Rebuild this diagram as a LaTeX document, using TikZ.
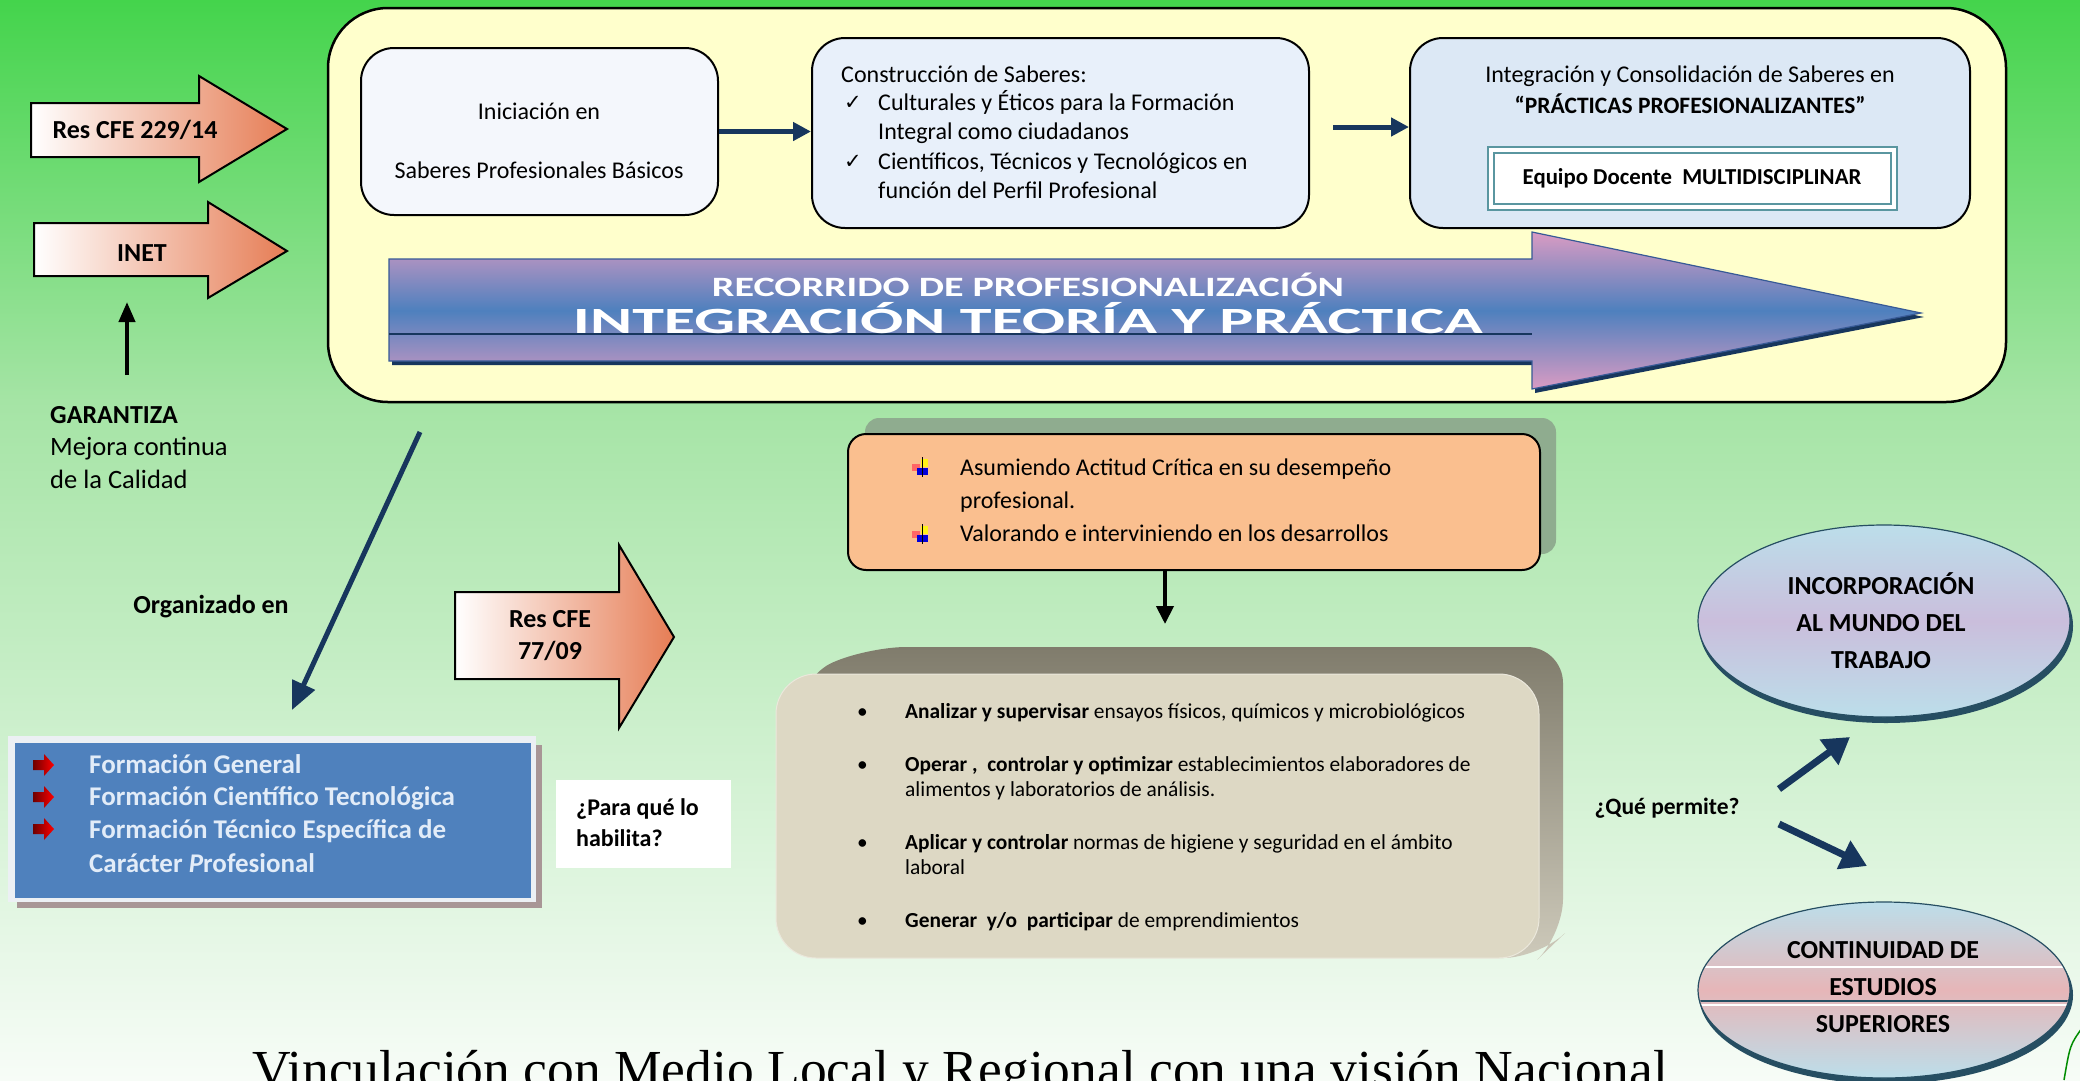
\documentclass[tikz,border=0pt]{standalone}
\usepackage{fontspec}
\setmainfont{Carlito}
\newfontfamily\serifF{Liberation Serif}
\newfontfamily\djv{DejaVu Sans}
\usetikzlibrary{arrows.meta,shapes.geometric}

\definecolor{bgtop}{RGB}{68,212,76}
\definecolor{bgmid}{RGB}{165,228,165}
\definecolor{bgbot}{RGB}{247,252,247}
\definecolor{frameY}{RGB}{255,255,204}
\definecolor{navy}{RGB}{23,54,93}
\definecolor{salm}{RGB}{230,125,85}
\definecolor{boxA}{RGB}{244,247,252}
\definecolor{boxB}{RGB}{232,240,250}
\definecolor{boxC}{RGB}{220,232,245}
\definecolor{tealB}{RGB}{90,150,160}
\definecolor{pinkA}{RGB}{218,155,195}
\definecolor{blueA}{RGB}{78,128,190}
\definecolor{arrowedge}{RGB}{55,90,150}
\definecolor{bluebox}{RGB}{79,129,189}
\definecolor{bluetxt}{RGB}{226,236,248}
\definecolor{peach}{RGB}{250,191,143}
\definecolor{peachsh}{RGB}{143,172,143}
\definecolor{beige}{RGB}{221,216,196}
\definecolor{bevelA}{RGB}{128,124,108}
\definecolor{bevelB}{RGB}{205,201,186}
\definecolor{ellblue}{RGB}{188,222,234}
\definecolor{lav}{RGB}{202,190,220}
\definecolor{rose}{RGB}{230,182,184}
\definecolor{ellsh}{RGB}{38,78,98}
\definecolor{shbrown}{RGB}{168,150,150}
\definecolor{frameG}{RGB}{236,240,244}

\newcommand\redbul[2]{%
  \shade[left color={rgb,255:red,110;green,0;blue,0}, right color=red]
    (#1-10,#2-5) -- (#1+1,#2-5) -- (#1+1,#2-11) -- (#1+11,#2) -- (#1+1,#2+11) -- (#1+1,#2+5) -- (#1-10,#2+5) -- cycle;}
\newcommand\flagbul[2]{%
  \fill[yellow!90!white] (#1-1,#2-9) rectangle (#1+6,#2-1);
  \fill[red!60!white] (#1-10,#2-4) rectangle (#1-2,#2+3);
  \fill[blue!85!black] (#1-5,#2) rectangle (#1+6,#2+7);
  \draw[black, line width=0.9pt] (#1,#2-11) -- (#1,#2+9);}

\tikzset{
  t/.style={inner sep=0pt},
  lw/.style={inner sep=0pt, anchor=mid west, yshift=-6pt},
  f24/.style={font=\fontsize{24}{29}\selectfont},
  f26/.style={font=\fontsize{26}{33}\selectfont},
  f26b/.style={font=\fontsize{26}{32}\selectfont\bfseries},
  fsm/.style={font=\fontsize{21.4}{25}\selectfont},
  rbox/.style={draw=black, line width=2pt, rounded corners=33pt, inner sep=0pt},
  blockarrow/.style={draw=black, line width=2pt, left color=white, right color=salm},
  navyarrow/.style={draw=navy, line width=5pt, -{Triangle[length=28pt,width=24pt]}},
  blackarrow/.style={draw=black, line width=4pt, -{Triangle[length=18pt,width=17pt]}},
}

\begin{document}
\begin{tikzpicture}[x=1pt,y=-1pt]
\useasboundingbox (0,0) rectangle (2080,1080);
% background
\shade[top color=bgtop, bottom color=bgmid] (0,0) rectangle (2080,401);
\shade[top color=bgmid, bottom color=bgbot] (0,400) rectangle (2080,1080);

% big frame
\node[draw=black, line width=2.5pt, rounded corners=60pt, fill=frameY, minimum width=1678pt, minimum height=394pt, inner sep=0pt] (frame) at (1167,205) {};

% left block arrows
\shade[blockarrow] (31,103) -- (199,103) -- (199,76) -- (287,129) -- (199,182) -- (199,157) -- (31,157) -- cycle;
\node[t, f26b] (res1) at (135,130) {Res CFE 229/14};
\shade[blockarrow] (34,223) -- (208,223) -- (208,202) -- (287,251) -- (208,298) -- (208,276) -- (34,276) -- cycle;
\node[t, f26b] (inet) at (142,253) {INET};

% up arrow
\coordinate (uA) at (127,375);
\coordinate (uB) at (127,302);
\draw[blackarrow, -{Triangle[length=20pt,width=16pt]}] (uA) -- (uB);

\node[lw, f26] (gar1) at (50,415) {\bfseries GARANTIZA};
\node[lw, font=\fontsize{26.5}{33}\selectfont] (gar2) at (50,447) {Mejora continua};
\node[lw, font=\fontsize{26.5}{33}\selectfont] (gar3) at (50,480) {de la Calidad};

% top boxes
\node[rbox, fill=boxA, minimum width=357pt, minimum height=167pt] (ini) at (539.5,131.5) {};
\node[t, f24] (ini1) at (539,111) {Iniciación en};
\node[t, f24] (ini2) at (539,170) {Saberes Profesionales Básicos};

\node[rbox, fill=boxB, minimum width=497pt, minimum height=190pt] (cons) at (1060.5,133) {};
\node[lw, f24] (c0) at (841,74) {Construcción de Saberes:};
\node[t, font=\djv\fontsize{21}{24}\selectfont] (ck1) at (853,103) {✓};
\node[t, font=\djv\fontsize{21}{24}\selectfont] (ck2) at (853,162) {✓};
\node[lw, f24] (c1) at (878,102) {Culturales y Éticos para la Formación};
\node[lw, f24] (c2) at (878,131) {Integral como ciudadanos};
\node[lw, f24] (c3) at (878,161) {Científicos, Técnicos y Tecnológicos en};
\node[lw, f24] (c4) at (878,190) {función del Perfil Profesional};

\node[rbox, fill=boxC, minimum width=560pt, minimum height=190pt] (integ) at (1690,133) {};
\node[t, f24] (i1) at (1690,76) {Integración y Consolidación de Saberes en};
\node[t, font=\fontsize{23.5}{28}\selectfont\bfseries] (i2) at (1690,104) {“PRÁCTICAS PROFESIONALIZANTES”};
\node[draw=tealB, line width=2pt, fill=white, minimum width=409pt, minimum height=63pt, inner sep=0pt] (equipo) at (1692.5,178.5) {};
\node[draw=tealB, line width=1.2pt, minimum width=397pt, minimum height=51pt, inner sep=0pt] (equipoIn) at (1692.5,178.5) {};
\node[t, font=\fontsize{22.8}{26}\selectfont\bfseries] (eqt) at (1692,178) {Equipo Docente\ \ MULTIDISCIPLINAR};

\draw[navyarrow, -{Triangle[length=18pt,width=18pt]}] (ini.east) -- (ini.east -| cons.west);
\coordinate (c2s) at (1333,127);
\draw[navyarrow, -{Triangle[length=18pt,width=18pt]}] (c2s) -- (c2s -| integ.west);

% big arrow
\fill[navy] (392,263) -- (1535,263) -- (1535,236) -- (1924,317) -- (1535,393) -- (1535,365) -- (392,365) -- cycle;
\shade[top color=pinkA, bottom color=pinkA, middle color=blueA, draw=arrowedge, line width=1.2pt]
  (389,259) -- (1532,259) -- (1532,232) -- (1921,313) -- (1532,389) -- (1532,361) -- (389,361) -- cycle;
\draw[navy, line width=1.5pt] (389,334) -- (1532,334);
\node[t, anchor=base, text=white] (rec1) at (1028,296) {\resizebox{632pt}{\height}{\fontsize{28}{30}\selectfont\bfseries RECORRIDO DE PROFESIONALIZACIÓN}};
\node[t, anchor=base, text=white] (rec2) at (1028,333) {\resizebox{910pt}{\height}{\fontsize{37}{40}\selectfont\bfseries INTEGRACIÓN TEORÍA Y PRÁCTICA}};

% diagonal arrow
\coordinate (dA) at (420,432);
\coordinate (dB) at (292,710);
\draw[navyarrow] (dA) -- (dB);
\node[t, f26b] (org) at (211,607) {Organizado en};

% blue box
\fill[shbrown] (17,745) rectangle (542,908);
\fill[frameG] (8,736) rectangle (536,902);
\node[fill=bluebox, minimum width=516pt, minimum height=155pt, inner sep=0pt] (form) at (273,820) {};
\redbul{43}{765}
\redbul{43}{797}
\redbul{43}{829}
\node[lw, font=\fontsize{27}{32}\selectfont\bfseries, text=bluetxt] (fo1) at (89,765) {Formación General};
\node[lw, font=\fontsize{27}{32}\selectfont\bfseries, text=bluetxt] (fo2) at (89,797) {Formación Científico Tecnológica};
\node[lw, font=\fontsize{27}{32}\selectfont\bfseries, text=bluetxt] (fo3) at (89,830) {Formación Técnico Específica de};
\node[lw, font=\fontsize{27}{32}\selectfont\bfseries, text=bluetxt] (fo4) at (89,864) {Carácter \textit{P}rofesional};

% para que box
\node[fill=white, minimum width=175pt, minimum height=88pt, inner sep=0pt] (para) at (643.5,824) {};
\node[lw, font=\fontsize{24}{30}\selectfont\bfseries] (pa1) at (576,807) {¿Para qué lo};
\node[lw, font=\fontsize{24}{30}\selectfont\bfseries] (pa2) at (576,838) {habilita?};

% Res CFE 77/09 arrow
\shade[blockarrow] (455,592) -- (619,592) -- (619,545) -- (674,637) -- (619,728) -- (619,679) -- (455,679) -- cycle;
\node[t, align=center, font=\fontsize{26}{32}\selectfont\bfseries] (res2) at (550,636) {Res CFE\\77/09};

% orange box
\fill[peachsh, rounded corners=14pt] (865,418) rectangle (1556,554);
\node[draw=black, line width=2pt, rounded corners=18pt, fill=peach, minimum width=692pt, minimum height=136pt, inner sep=0pt] (ori) at (1194,502) {};
\flagbul{922}{468}
\flagbul{922}{535}
\node[lw, f24] (o1) at (960,467) {Asumiendo Actitud Crítica en su desempeño};
\node[lw, f24] (o2) at (960,500) {profesional.};
\node[lw, f24] (o3) at (960,533) {Valorando e interviniendo en los desarrollos};

\coordinate (oB) at (1165,624);
\draw[blackarrow] (ori.south -| oB) -- (oB);

% gray 3d box
\shade[top color=bevelA, bottom color=bevelB, rounded corners=36pt]
  (800,676) -- (870,647) -- (1563,647) -- (1563,935) -- (1539,958) -- (800,958) -- cycle;
\node[fill=beige, draw=beige!60!white, line width=1pt, rounded corners=40pt, minimum width=763pt, minimum height=284pt, inner sep=0pt] (gb) at (1157.5,816) {};
\node[lw, fsm] (b1) at (857,710) {•};
\node[lw, fsm] (b2) at (857,763) {•};
\node[lw, fsm] (b3) at (857,841) {•};
\node[lw, fsm] (b4) at (857,919) {•};
\node[lw, fsm] (g1) at (905,710) {\textbf{Analizar y supervisar} ensayos físicos, químicos y microbiológicos};
\node[lw, fsm] (g2) at (905,763) {\textbf{Operar ,\ \ controlar y optimizar} establecimientos elaboradores de};
\node[lw, fsm] (g3) at (905,788) {alimentos y laboratorios de análisis.};
\node[lw, fsm] (g4) at (905,841) {\textbf{Aplicar y controlar} normas de higiene y seguridad en el ámbito};
\node[lw, fsm] (g5) at (905,866) {laboral};
\node[lw, fsm] (g6) at (905,919) {\textbf{Generar\ \ y/o\ \ participar} de emprendimientos};

% que permite
\node[t, font=\fontsize{23.5}{28}\selectfont\bfseries] (qp) at (1667,808) {¿Qué permite?};
\coordinate (q1a) at (1779,789);
\coordinate (q1b) at (1850,737);
\coordinate (q2a) at (1779,824);
\coordinate (q2b) at (1867,866);
\draw[navyarrow, line width=7pt, -{Triangle[length=26pt,width=30pt]}] (q1a) -- (q1b);
\draw[navyarrow, line width=7pt, -{Triangle[length=26pt,width=30pt]}] (q2a) -- (q2b);

% ellipses
\node[ellipse, fill=ellsh, minimum width=374pt, minimum height=194pt, inner sep=0pt] (e1s) at (1886,626) {};
\node[ellipse, top color=ellblue, bottom color=ellblue, middle color=lav, draw=ellsh, line width=1.2pt, minimum width=372pt, minimum height=192pt, inner sep=0pt] (e1) at (1884,621) {};
\node[t, align=center, font=\fontsize{26}{37}\selectfont\bfseries] (e1t) at (1881,621) {INCORPORACIÓN\\AL MUNDO DEL\\TRABAJO};

\node[ellipse, fill=ellsh, minimum width=374pt, minimum height=178pt, inner sep=0pt] (e2s) at (1886,995) {};
\node[ellipse, top color=ellblue, bottom color=ellblue, middle color=rose, draw=ellsh, line width=1.2pt, minimum width=372pt, minimum height=176pt, inner sep=0pt] (e2) at (1884,990) {};
\begin{scope}
  \clip (1884,990) ellipse [x radius=185, y radius=87];
  \draw[white, line width=1.5pt] (1690,967) -- (2080,967);
  \draw[ellsh, line width=1.2pt] (1690,1001) -- (2080,1001);
  \draw[white, line width=1.5pt] (1690,1005) -- (2080,1005);
\end{scope}
\node[t, align=center, font=\fontsize{26}{37}\selectfont\bfseries] (e2t) at (1883,987) {CONTINUIDAD DE\\ESTUDIOS\\SUPERIORES};

% bottom title
\node[t, anchor=base, font=\serifF\fontsize{53.5}{60}\selectfont] (vinc) at (960,1087) {Vinculación con Medio Local y Regional con una visión Nacional};
\draw[green!55!black, line width=1.5pt] (2082,1028) .. controls (2070,1045) .. (2064,1080);
\end{tikzpicture}
\end{document}
